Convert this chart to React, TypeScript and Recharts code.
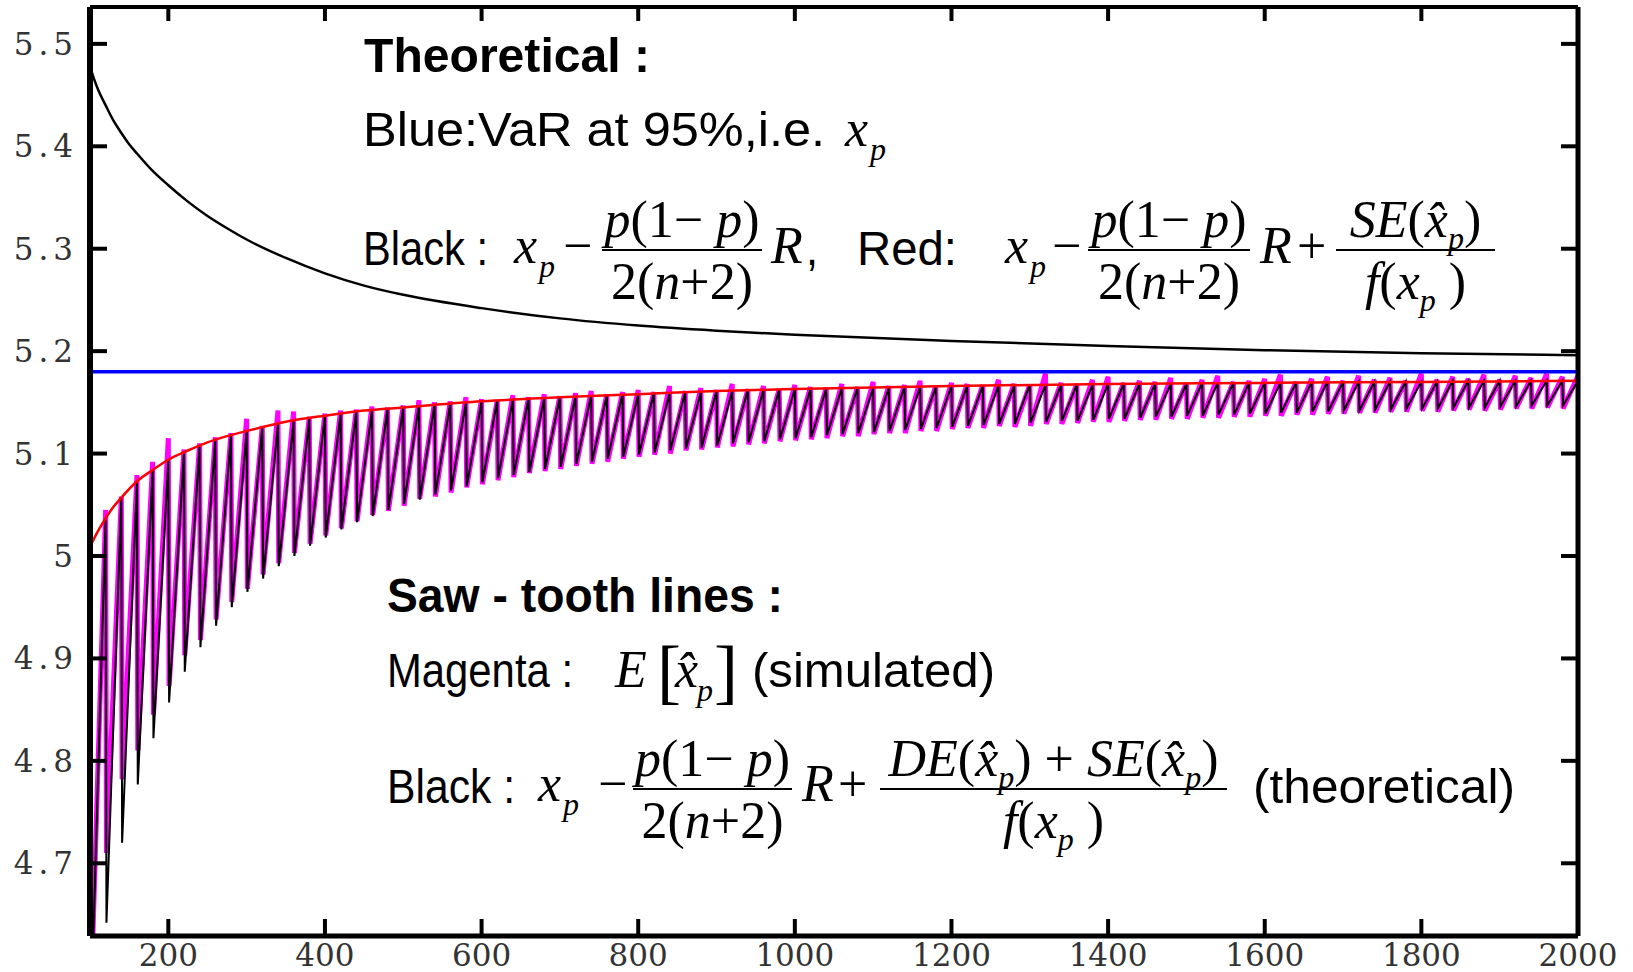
import { LineChart, Line, XAxis, YAxis } from 'recharts';

const W = 1633;
const H = 972;

const SANS = '"Liberation Sans", Arial, sans-serif';
const SERIF = '"Liberation Serif", "Times New Roman", serif';
const TICK_FONT = '"DejaVu Serif", serif';

// saw-tooth: one tooth per 20 extra observations, starting at n = 100
const N0 = 100;
const STEP = 20;

// theoretical saw-tooth (black): value at each jump, then value just after the drop
const toothTop = [
  5.009, 5.037, 5.057, 5.073, 5.084, 5.094, 5.102, 5.108, 5.114, 5.118,
  5.122, 5.126, 5.129, 5.132, 5.134, 5.137, 5.139, 5.141, 5.142, 5.144,
  5.145, 5.147, 5.148, 5.149, 5.150, 5.151, 5.152, 5.153, 5.154, 5.154,
  5.155, 5.156, 5.157, 5.157, 5.158, 5.158, 5.159, 5.159, 5.160, 5.160,
  5.161, 5.161, 5.162, 5.162, 5.162, 5.163, 5.163, 5.163, 5.164, 5.164,
  5.164, 5.164, 5.165, 5.165, 5.165, 5.166, 5.166, 5.166, 5.166, 5.166,
  5.167, 5.167, 5.167, 5.167, 5.167, 5.168, 5.168, 5.168, 5.168, 5.168,
  5.168, 5.169, 5.169, 5.169, 5.169, 5.169, 5.169, 5.169, 5.170, 5.170,
  5.170, 5.170, 5.170, 5.170, 5.170, 5.170, 5.170, 5.171, 5.171, 5.171,
  5.171, 5.171, 5.171, 5.171, 5.171, 5.171,
];
const toothBottom = [
  4.543, 4.642, 4.720, 4.777, 4.822, 4.857, 4.887, 4.911, 4.932, 4.950,
  4.965, 4.978, 4.990, 5.000, 5.010, 5.018, 5.026, 5.033, 5.039, 5.045,
  5.051, 5.055, 5.060, 5.064, 5.068, 5.072, 5.076, 5.079, 5.082, 5.085,
  5.087, 5.090, 5.092, 5.095, 5.097, 5.099, 5.101, 5.103, 5.105, 5.106,
  5.108, 5.110, 5.111, 5.112, 5.114, 5.115, 5.116, 5.118, 5.119, 5.120,
  5.121, 5.122, 5.123, 5.124, 5.125, 5.126, 5.127, 5.128, 5.129, 5.129,
  5.130, 5.131, 5.132, 5.132, 5.133, 5.134, 5.134, 5.135, 5.136, 5.136,
  5.137, 5.137, 5.138, 5.138, 5.139, 5.139, 5.140, 5.140, 5.141, 5.141,
  5.142, 5.142, 5.143, 5.143, 5.144, 5.144, 5.144, 5.145, 5.145, 5.145,
  5.146, 5.146, 5.147, 5.147, 5.147,
];

// simulated E[x̂p] (magenta)
const simTop = [
  5.018, 5.045, 5.058, 5.079, 5.092, 5.115, 5.104, 5.110, 5.116, 5.120,
  5.134, 5.127, 5.142, 5.141, 5.136, 5.139, 5.142, 5.143, 5.146, 5.145,
  5.147, 5.152, 5.150, 5.151, 5.155, 5.153, 5.152, 5.157, 5.155, 5.158,
  5.156, 5.159, 5.161, 5.158, 5.160, 5.162, 5.160, 5.166, 5.161, 5.164,
  5.162, 5.168, 5.163, 5.166, 5.163, 5.167, 5.165, 5.164, 5.168, 5.165,
  5.170, 5.166, 5.167, 5.171, 5.166, 5.169, 5.168, 5.167, 5.172, 5.168,
  5.167, 5.178, 5.169, 5.168, 5.172, 5.175, 5.169, 5.171, 5.170, 5.174,
  5.169, 5.172, 5.176, 5.170, 5.171, 5.173, 5.177, 5.170, 5.173, 5.175,
  5.171, 5.176, 5.172, 5.174, 5.171, 5.178, 5.172, 5.175, 5.173, 5.177,
  5.172, 5.176, 5.174, 5.178, 5.175, 5.176,
];
const simBottom = [
  4.560, 4.710, 4.782, 4.810, 4.845, 4.873, 4.903, 4.918, 4.938, 4.955,
  4.968, 4.982, 4.993, 5.003, 5.012, 5.020, 5.027, 5.034, 5.040, 5.044,
  5.049, 5.056, 5.058, 5.062, 5.067, 5.070, 5.074, 5.077, 5.081, 5.083,
  5.085, 5.088, 5.090, 5.092, 5.095, 5.097, 5.099, 5.100, 5.103, 5.104,
  5.106, 5.107, 5.109, 5.110, 5.112, 5.113, 5.114, 5.115, 5.117, 5.117,
  5.119, 5.120, 5.120, 5.122, 5.122, 5.124, 5.125, 5.125, 5.127, 5.126,
  5.127, 5.129, 5.129, 5.130, 5.131, 5.131, 5.132, 5.133, 5.133, 5.134,
  5.134, 5.135, 5.135, 5.136, 5.136, 5.137, 5.137, 5.138, 5.138, 5.139,
  5.139, 5.140, 5.140, 5.141, 5.141, 5.142, 5.141, 5.142, 5.143, 5.142,
  5.143, 5.144, 5.144, 5.145, 5.144,
];

// theoretical curves
const upperN = [100, 105, 110, 120, 130, 140, 150, 160, 180, 200, 225, 250, 275, 300, 350, 400, 450, 500, 600, 700, 800, 900, 1000, 1200, 1400, 1600, 1800, 2000];
const upperV = [5.478, 5.466, 5.456, 5.440, 5.425, 5.413, 5.402, 5.393, 5.376, 5.362, 5.346, 5.332, 5.320, 5.309, 5.291, 5.276, 5.264, 5.255, 5.242, 5.232, 5.225, 5.220, 5.216, 5.210, 5.205, 5.201, 5.198, 5.196];
const redN = [100, 110, 120, 130, 140, 160, 180, 200, 225, 250, 275, 300, 350, 400, 450, 500, 600, 700, 800, 900, 1000, 1200, 1400, 1600, 1800, 2000];
const redV = [5.009, 5.024, 5.037, 5.048, 5.057, 5.073, 5.084, 5.094, 5.103, 5.111, 5.117, 5.122, 5.131, 5.137, 5.142, 5.145, 5.151, 5.155, 5.158, 5.161, 5.163, 5.166, 5.168, 5.169, 5.170, 5.171];
const VAR95 = 5.18;

const xTicks = [200, 400, 600, 800, 1000, 1200, 1400, 1600, 1800, 2000];
const yTicks = [4.7, 4.8, 4.9, 5, 5.1, 5.2, 5.3, 5.4, 5.5];
const yTickLabels = ['4.7', '4.8', '4.9', '5', '5.1', '5.2', '5.3', '5.4', '5.5'];

const toSaw = (tops: number[], bottoms: number[]) => {
  const out: { n: number; v: number }[] = [];
  tops.forEach((t, k) => {
    const n = N0 + k * STEP;
    out.push({ n, v: t });
    if (k < bottoms.length) out.push({ n: n + 1, v: bottoms[k] });
  });
  return out;
};

const sawBlack = toSaw(toothTop, toothBottom);
const sawMagenta = toSaw(simTop, simBottom);
const upperData = upperN.map((n, i) => ({ n, v: upperV[i] }));
const redData = redN.map((n, i) => ({ n, v: redV[i] }));
const blueData = [{ n: 100, v: VAR95 }, { n: 2000, v: VAR95 }];

const TICK_LEN = 17;

const BottomTick = (p: any) => (
  <g>
    <line x1={p.x} x2={p.x} y1={p.y} y2={p.y - TICK_LEN} stroke="#000" strokeWidth={4} />
    <text x={p.x} y={p.y + 30} textAnchor="middle" fontFamily={TICK_FONT} fontSize={31} fill="#333">
      {p.payload.value}
    </text>
  </g>
);
const TopTick = (p: any) => (
  <line x1={p.x} x2={p.x} y1={p.y} y2={p.y + TICK_LEN - 3} stroke="#000" strokeWidth={4} />
);
const LeftTick = (p: any) => {
  const i = yTicks.indexOf(p.payload.value);
  return (
    <g>
      <line x1={p.x} x2={p.x + TICK_LEN} y1={p.y} y2={p.y} stroke="#000" strokeWidth={4} />
      <text x={p.x - 12} y={p.y + 11} textAnchor="end" fontFamily={TICK_FONT} fontSize={31} letterSpacing={5} fill="#333">
        {yTickLabels[i]}
      </text>
    </g>
  );
};
const RightTick = (p: any) => (
  <line x1={p.x} x2={p.x - TICK_LEN} y1={p.y} y2={p.y} stroke="#000" strokeWidth={4} />
);

// --- annotation helpers ---
const MS = 52; // math font size
const SUB = 32;

const Sans = ({ x, y, len, bold, children }: any) => (
  <text x={x} y={y} fontFamily={SANS} fontSize={48} fontWeight={bold ? 700 : 400} textLength={len} lengthAdjust="spacingAndGlyphs">
    {children}
  </text>
);
const It = ({ x, y, size = MS, children }: any) => (
  <text x={x} y={y} fontFamily={SERIF} fontStyle="italic" fontSize={size}>{children}</text>
);
const Up = ({ x, y, size = MS, children }: any) => (
  <text x={x} y={y} fontFamily={SERIF} fontSize={size}>{children}</text>
);
const Xp = ({ x, y }: any) => (
  <g>
    <It x={x} y={y}>x</It>
    <It x={x + 25} y={y + 14} size={SUB}>p</It>
  </g>
);
const Sub = () => (
  <>
    <tspan fontSize={SUB} fontStyle="italic" dy={12}>p</tspan>
    <tspan dy={-12}>)</tspan>
  </>
);
const Frac = ({ x1, x2, y, num, den }: any) => {
  const cx = (x1 + x2) / 2;
  return (
    <g>
      <line x1={x1} x2={x2} y1={y} y2={y} stroke="#000" strokeWidth={2} />
      <text x={cx} y={y - 13} textAnchor="middle" fontFamily={SERIF} fontSize={MS}>{num}</text>
      <text x={cx} y={y + 49} textAnchor="middle" fontFamily={SERIF} fontSize={MS}>{den}</text>
    </g>
  );
};
const Pnum = (
  <>
    <tspan fontStyle="italic">p</tspan>
    <tspan>(1− </tspan>
    <tspan fontStyle="italic">p</tspan>
    <tspan>)</tspan>
  </>
);
const Nden = (
  <>
    <tspan>2(</tspan>
    <tspan fontStyle="italic">n</tspan>
    <tspan>+2)</tspan>
  </>
);
const FxDen = (
  <>
    <tspan fontStyle="italic">f</tspan>
    <tspan>(</tspan>
    <tspan fontStyle="italic">x</tspan>
    <tspan fontSize={SUB} fontStyle="italic" dy={12}>p</tspan>
    <tspan dy={-12}> )</tspan>
  </>
);
const SEnum = (
  <>
    <tspan fontStyle="italic">SE</tspan>
    <tspan>(</tspan>
    <tspan fontStyle="italic">{'x\u0302'}</tspan>
    <Sub />
  </>
);
const DESEnum = (
  <>
    <tspan fontStyle="italic">DE</tspan>
    <tspan>(</tspan>
    <tspan fontStyle="italic">{'x\u0302'}</tspan>
    <Sub />
    <tspan> + </tspan>
    <tspan fontStyle="italic">SE</tspan>
    <tspan>(</tspan>
    <tspan fontStyle="italic">{'x\u0302'}</tspan>
    <Sub />
  </>
);

const Notes = () => (
  <svg width={W} height={H} style={{ position: 'absolute', left: 0, top: 0, pointerEvents: 'none' }}>
    <Sans x={364} y={72} len={286} bold>Theoretical :</Sans>
    <Sans x={363} y={146} len={462}>Blue:VaR at 95%,i.e.</Sans>
    <Xp x={845} y={146} />

    <Sans x={363} y={265} len={125}>Black :</Sans>
    <Xp x={514} y={263} />
    <Up x={563} y={263}>−</Up>
    <Frac x1={602} x2={762} y={250} num={Pnum} den={Nden} />
    <It x={771} y={263}>R</It>
    <Sans x={806} y={265} len={12}>,</Sans>
    <Sans x={857} y={265} len={100}>Red:</Sans>
    <Xp x={1005} y={263} />
    <Up x={1052} y={263}>−</Up>
    <Frac x1={1088} x2={1250} y={250} num={Pnum} den={Nden} />
    <It x={1260} y={263}>R</It>
    <Up x={1297} y={263}>+</Up>
    <Frac x1={1336} x2={1495} y={250} num={SEnum} den={FxDen} />

    <Sans x={387} y={612} len={396} bold>Saw - tooth lines :</Sans>
    <Sans x={387} y={687} len={186}>Magenta :</Sans>
    <It x={615} y={687}>E</It>
    <Up x={657} y={695} size={72}>[</Up>
    <It x={675} y={687}>{'x\u0302'}</It>
    <It x={697} y={701} size={SUB}>p</It>
    <Up x={714} y={695} size={72}>]</Up>
    <Sans x={752} y={687} len={243}>(simulated)</Sans>

    <Sans x={387} y={803} len={128}>Black :</Sans>
    <Xp x={538} y={801} />
    <Up x={598} y={801}>−</Up>
    <Frac x1={633} x2={792} y={789} num={Pnum} den={Nden} />
    <It x={802} y={801}>R</It>
    <Up x={838} y={801}>+</Up>
    <Frac x1={880} x2={1227} y={789} num={DESEnum} den={FxDen} />
    <Sans x={1253} y={803} len={262}>(theoretical)</Sans>
  </svg>
);

export default function App() {
  return (
    <div style={{ position: 'relative', width: W, height: H, background: '#fff' }}>
      <style>{'body{margin:0}'}</style>
      <LineChart width={W} height={H} margin={{ top: 6, right: 54, bottom: 0, left: 0 }}>
        <XAxis
          dataKey="n"
          type="number"
          domain={[100, 2000]}
          allowDataOverflow
          ticks={xTicks}
          height={36}
          tickSize={0}
          tickMargin={0}
          tickLine={false}
          tick={BottomTick}
          axisLine={{ stroke: '#000', strokeWidth: 5 }}
          interval={0}
        />
        <XAxis
          xAxisId="top"
          orientation="top"
          dataKey="n"
          type="number"
          domain={[100, 2000]}
          allowDataOverflow
          ticks={xTicks}
          height={1}
          tickSize={0}
          tickMargin={0}
          tickLine={false}
          tick={TopTick}
          axisLine={{ stroke: '#000', strokeWidth: 4 }}
          interval={0}
        />
        <YAxis
          type="number"
          domain={[4.629, 5.536]}
          allowDataOverflow
          ticks={yTicks}
          width={90}
          tickSize={0}
          tickMargin={0}
          tickLine={false}
          tick={LeftTick}
          axisLine={{ stroke: '#000', strokeWidth: 6 }}
          interval={0}
        />
        <YAxis
          yAxisId="right"
          orientation="right"
          type="number"
          domain={[4.629, 5.536]}
          allowDataOverflow
          ticks={yTicks}
          width={1}
          tickSize={0}
          tickMargin={0}
          tickLine={false}
          tick={RightTick}
          axisLine={{ stroke: '#000', strokeWidth: 5 }}
          interval={0}
        />
        <Line data={sawMagenta} dataKey="v" type="linear" stroke="#ff00ff" strokeWidth={5} dot={false} activeDot={false} isAnimationActive={false} />
        <Line data={sawBlack} dataKey="v" type="linear" stroke="#000" strokeWidth={2} dot={false} activeDot={false} isAnimationActive={false} />
        <Line data={redData} dataKey="v" type="monotone" stroke="#ff0000" strokeWidth={2.5} dot={false} activeDot={false} isAnimationActive={false} />
        <Line xAxisId="top" yAxisId="right" data={blueData} dataKey="v" type="linear" stroke="#0000ff" strokeWidth={3.5} dot={false} activeDot={false} isAnimationActive={false} />
        <Line data={upperData} dataKey="v" type="monotone" stroke="#000" strokeWidth={2.5} dot={false} activeDot={false} isAnimationActive={false} />
      </LineChart>
      <Notes />
    </div>
  );
}
